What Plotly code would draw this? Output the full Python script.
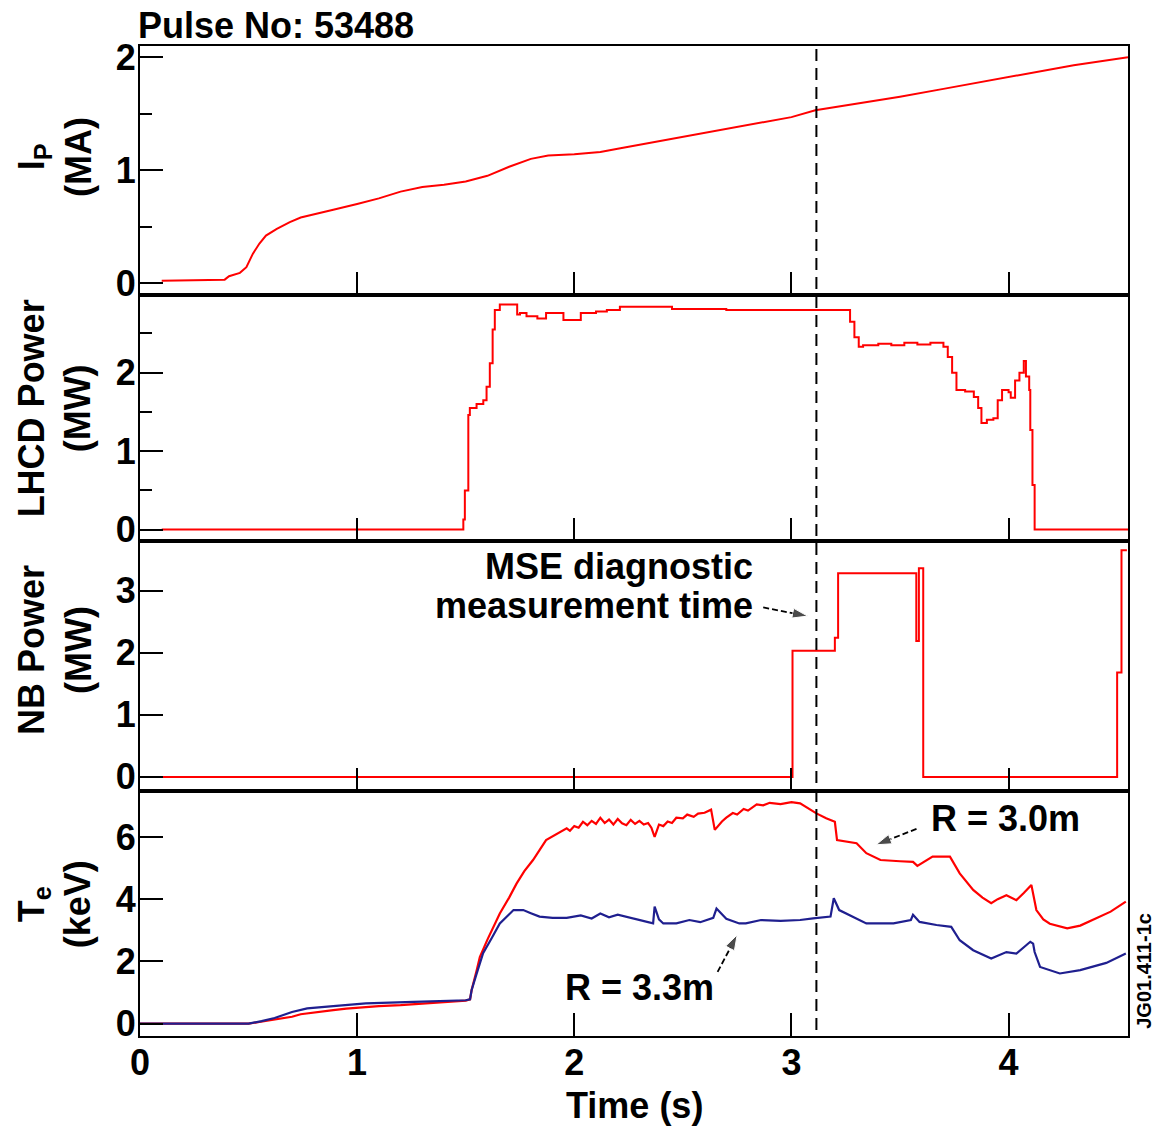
import plotly.graph_objects as go
from plotly.subplots import make_subplots

# ---------------- data ----------------
ip_t = [0.10, 0.39, 0.41, 0.46, 0.49, 0.52, 0.55, 0.58, 0.63, 0.69, 0.74, 0.80, 0.89, 1.00, 1.10,
        1.20, 1.30, 1.40, 1.50, 1.60, 1.70, 1.80, 1.88, 2.00, 2.12, 2.20, 2.40, 2.60, 2.80, 3.00,
        3.11, 3.30, 3.50, 3.70, 3.90, 4.10, 4.30, 4.55]
ip_ma = [0.02, 0.03, 0.06, 0.09, 0.14, 0.26, 0.35, 0.42, 0.48, 0.54, 0.58, 0.61, 0.65, 0.70, 0.75,
         0.81, 0.85, 0.87, 0.90, 0.95, 1.03, 1.10, 1.13, 1.14, 1.16, 1.19, 1.26, 1.33, 1.40, 1.47,
         1.53, 1.59, 1.65, 1.72, 1.79, 1.86, 1.93, 2.00]

lh_t = [0.10, 1.489, 1.496, 1.512, 1.519, 1.55, 1.581, 1.596, 1.611, 1.624, 1.634, 1.657, 1.737,
        1.75, 1.78, 1.83, 1.87, 1.95, 2.03, 2.10, 2.15, 2.21, 2.45, 2.70, 3.00, 3.27, 3.29, 3.31,
        3.33, 3.40, 3.46, 3.52, 3.58, 3.64, 3.70, 3.72, 3.74, 3.76, 3.80, 3.84, 3.86, 3.875, 3.90,
        3.93, 3.95, 3.97, 4.00, 4.01, 4.03, 4.05, 4.07, 4.08, 4.095, 4.10, 4.11, 4.12, 4.55]
lh_mw = [0.00, 0.13, 0.50, 1.46, 1.55, 1.60, 1.65, 1.82, 2.12, 2.55, 2.80, 2.87, 2.74,
         2.76, 2.72, 2.69, 2.76, 2.67, 2.76, 2.78, 2.80, 2.84, 2.81, 2.80, 2.80, 2.65, 2.45, 2.33,
         2.35, 2.37, 2.35, 2.38, 2.36, 2.38, 2.33, 2.20, 2.00, 1.78, 1.76, 1.69, 1.55, 1.36, 1.40,
         1.42, 1.65, 1.78, 1.75, 1.68, 1.90, 2.00, 2.15, 1.95, 1.78, 1.27, 0.57, 0.00, 0.00]

nb_t = [0.10, 3.005, 3.20, 3.215, 3.575, 3.587, 3.607, 4.50, 4.52, 4.545]
nb_mw = [0.00, 2.03, 2.24, 3.28, 2.19, 3.36, 0.00, 1.68, 3.65, 3.65]

te30_t = [0.00, 0.50, 0.55, 0.60, 0.66, 0.70, 0.74, 0.80, 0.89, 0.95, 1.04, 1.10, 1.20, 1.34, 1.45,
          1.50, 1.52, 1.527, 1.55, 1.565, 1.60, 1.657, 1.70, 1.734, 1.77, 1.81, 1.87, 1.92, 1.965,
          1.98, 2.00, 2.02, 2.04, 2.06, 2.08, 2.10, 2.12, 2.14, 2.16, 2.18, 2.20, 2.22, 2.24, 2.26,
          2.28, 2.30, 2.32, 2.34, 2.355, 2.37, 2.39, 2.41, 2.43, 2.45, 2.47, 2.50, 2.52, 2.55, 2.57,
          2.60, 2.63, 2.647, 2.68, 2.70, 2.73, 2.75, 2.78, 2.80, 2.84, 2.87, 2.90, 2.95, 3.00, 3.04,
          3.08, 3.115, 3.16, 3.20,
          3.21, 3.25, 3.30, 3.345, 3.41, 3.50, 3.56, 3.58, 3.62, 3.65, 3.73, 3.775, 3.837, 3.88,
          3.92, 3.95, 3.99, 4.036, 4.07, 4.105, 4.128, 4.16, 4.19, 4.27, 4.33, 4.40, 4.47, 4.54]
te30_kev = [0.00, 0.00, 0.05, 0.10, 0.17, 0.22, 0.30, 0.36, 0.43, 0.48, 0.54, 0.56, 0.59, 0.65, 0.70,
            0.74, 0.78, 1.07, 1.70, 2.14, 2.70, 3.54, 4.05, 4.50, 4.90, 5.26, 5.90, 6.10, 6.28,
            6.20, 6.35, 6.30, 6.49, 6.38, 6.52, 6.42, 6.62, 6.45, 6.56, 6.40, 6.58, 6.44, 6.38, 6.55,
            6.42, 6.52, 6.40, 6.45, 6.30, 6.00, 6.40, 6.35, 6.50, 6.45, 6.62, 6.60, 6.72, 6.65, 6.75,
            6.78, 6.88, 6.23, 6.50, 6.62, 6.77, 6.72, 6.90, 6.85, 7.05, 7.02, 7.10, 7.06, 7.12, 7.08,
            6.90, 6.76, 6.60, 6.49,
            5.90, 5.85, 5.80, 5.48, 5.26, 5.22, 5.20, 5.07, 5.25, 5.37, 5.37, 4.83, 4.30, 4.05,
            3.87, 4.00, 4.13, 3.97, 4.20, 4.46, 3.65, 3.35, 3.21, 3.06, 3.15, 3.38, 3.60, 3.92]

te33_t = [0.00, 0.50, 0.56, 0.62, 0.70, 0.77, 0.89, 1.04, 1.26, 1.43, 1.50, 1.52, 1.527, 1.55, 1.58,
          1.62, 1.657, 1.72, 1.765, 1.80, 1.84, 1.90, 1.965, 2.03, 2.08, 2.12, 2.16, 2.20, 2.27,
          2.363, 2.37, 2.39, 2.41, 2.47, 2.53, 2.58, 2.64, 2.655, 2.70, 2.76, 2.79, 2.86, 2.95,
          3.04, 3.10, 3.18, 3.195, 3.22,
          3.28, 3.345, 3.47, 3.55, 3.56, 3.59, 3.668, 3.736, 3.775, 3.837, 3.92, 3.99, 4.036, 4.10,
          4.113, 4.12, 4.145, 4.236, 4.33, 4.45, 4.54]
te33_kev = [0.00, 0.00, 0.08, 0.18, 0.37, 0.49, 0.56, 0.65, 0.70, 0.74, 0.75, 0.78, 1.07, 1.60, 2.26,
            2.75, 3.22, 3.65, 3.65, 3.55, 3.44, 3.40, 3.40, 3.48, 3.38, 3.54, 3.42, 3.50, 3.37,
            3.22, 3.76, 3.35, 3.22, 3.22, 3.33, 3.26, 3.40, 3.70, 3.37, 3.22, 3.22, 3.33, 3.30,
            3.33, 3.38, 3.44, 4.03, 3.65,
            3.44, 3.22, 3.22, 3.33, 3.50, 3.27, 3.17, 3.11, 2.68, 2.36, 2.09, 2.30, 2.25, 2.63,
            2.57, 2.30, 1.82, 1.61, 1.72, 1.95, 2.25]

mse_time = 3.115
x_ticks = [0, 1, 2, 3, 4]
ip_ticks = [0, 1, 2]
lh_ticks = [0, 1, 2]
nb_ticks = [0, 1, 2, 3]
te_ticks = [0, 2, 4, 6]

RED = "#ff0000"
BLUE = "#1f1f8f"
FONT = "Liberation Sans, Arial, sans-serif"

fig = make_subplots(rows=4, cols=1, shared_xaxes=True, vertical_spacing=0)

fig.add_trace(go.Scatter(x=ip_t, y=ip_ma, mode="lines", line=dict(color=RED, width=2)), row=1, col=1)
fig.add_trace(go.Scatter(x=lh_t, y=lh_mw, mode="lines", line=dict(color=RED, width=2, shape="hv")), row=2, col=1)
fig.add_trace(go.Scatter(x=nb_t, y=nb_mw, mode="lines", line=dict(color=RED, width=2, shape="hv")), row=3, col=1)
fig.add_trace(go.Scatter(x=te30_t, y=te30_kev, mode="lines", line=dict(color=RED, width=2.2)), row=4, col=1)
fig.add_trace(go.Scatter(x=te33_t, y=te33_kev, mode="lines", line=dict(color=BLUE, width=2.2)), row=4, col=1)

domains = [[0.7485, 1.0], [0.5, 0.7485], [0.2475, 0.5], [0.0, 0.2475]]
yranges = [[-0.106, 2.1], [-0.145, 2.99], [-0.227, 3.80], [-0.40, 7.48]]
yticks = [ip_ticks, lh_ticks, nb_ticks, te_ticks]
yminor = [[0.5, 1.5], [0.5, 1.5, 2.5], [], []]

tickfont = dict(family=FONT, size=36, color="black", weight="bold")

for i in range(4):
    r = i + 1
    fig.update_xaxes(row=r, col=1, range=[0, 4.55], showline=True, linewidth=2, linecolor="black",
                     mirror=True, ticks="inside", ticklen=23, tickwidth=2, tickcolor="black",
                     tickvals=x_ticks, showgrid=False, zeroline=False,
                     showticklabels=(r == 4), tickfont=tickfont, ticklabelstandoff=-6)
    ykw = dict(domain=domains[i], range=yranges[i], showline=True, linewidth=2, linecolor="black",
               mirror=True, ticks="inside", ticklen=23, tickwidth=2, tickcolor="black",
               tickvals=yticks[i], showgrid=False, zeroline=False, tickfont=tickfont,
               ticklabelstandoff=-5)
    if yminor[i]:
        ykw["minor"] = dict(tickvals=yminor[i], ticks="inside", ticklen=12, tickwidth=2,
                            tickcolor="black", showgrid=False)
    fig.update_yaxes(row=r, col=1, **ykw)

fig.add_shape(type="line", xref="x", yref="paper", x0=mse_time, x1=mse_time, y0=0.006, y1=1.0,
              line=dict(color="black", width=2, dash="12px,7px"))

def txt(text, x, y, xref="paper", yref="paper", size=36, xanchor="center", yanchor="middle", angle=0):
    fig.add_annotation(text=text, x=x, y=y, xref=xref, yref=yref, showarrow=False,
                       xanchor=xanchor, yanchor=yanchor, textangle=angle,
                       font=dict(family=FONT, size=size, color="black", weight="bold"))

def arrow(tail_x, tail_y, head_x, head_y, row):
    fig.add_trace(go.Scatter(x=[tail_x, head_x], y=[tail_y, head_y], mode="lines+markers",
                             line=dict(color="black", width=1.8, dash="6px,3px"),
                             marker=dict(symbol=["circle", "arrow"], size=[0, 16], color="black",
                                         angleref="previous"),
                             hoverinfo="skip"), row=row, col=1)

txt("Pulse No: 53488", -0.004, 1.021, xanchor="left")
txt("I<sub>P</sub><br>(MA)", -0.086, 0.888, angle=-90)
txt("LHCD Power<br>(MW)", -0.086, 0.634, angle=-90)
txt("NB Power<br>(MW)", -0.086, 0.390, angle=-90)
txt("T<sub>e</sub><br>(keV)", -0.086, 0.133, angle=-90)
txt("Time (s)", 0.5, -0.0697)
txt("JG01.411-1c", 1.016, 0.0657, size=20, angle=-90)

txt("MSE diagnostic", 2.831, 3.39, xref="x3", yref="y3", xanchor="right")
txt("measurement time", 2.831, 2.76, xref="x3", yref="y3", xanchor="right")
arrow(2.87, 2.73, 3.075, 2.59, 3)

txt("R = 3.0m", 3.987, 6.61, xref="x4", yref="y4")
arrow(3.576, 6.26, 3.39, 5.75, 4)
txt("R = 3.3m", 2.302, 1.17, xref="x4", yref="y4")
arrow(2.66, 1.66, 2.75, 2.85, 4)

fig.update_layout(width=1159, height=1130, margin=dict(l=140, r=31, t=46, b=94),
                  plot_bgcolor="white", paper_bgcolor="white", showlegend=False)

fig.write_html("out.html")
